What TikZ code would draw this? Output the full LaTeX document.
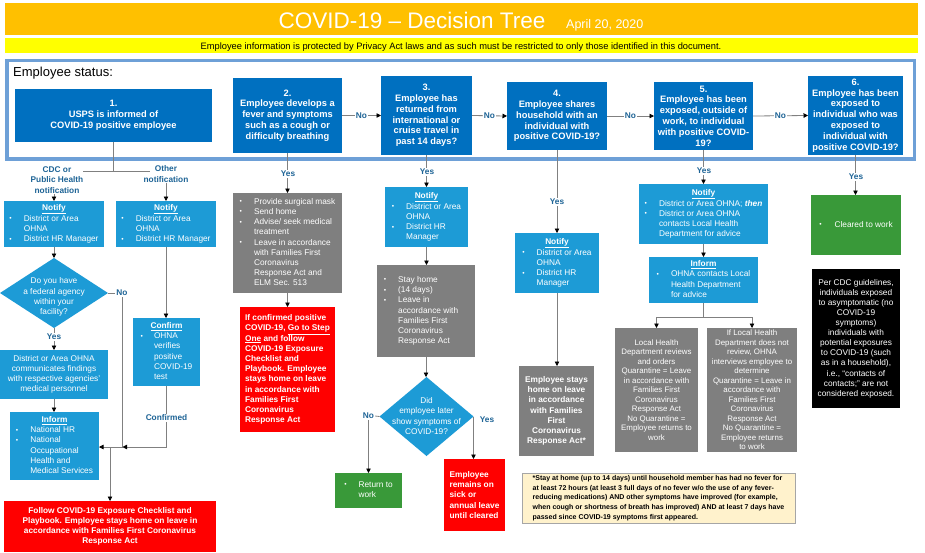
\documentclass[tikz,border=0pt]{standalone}
\usepackage{fontspec}
\setmainfont{Liberation Sans}
\usetikzlibrary{arrows.meta,shapes.geometric,calc}
\definecolor{dblue}{RGB}{0,112,192}
\definecolor{lblue}{RGB}{29,155,214}
\definecolor{gbox}{RGB}{127,127,127}
\definecolor{rbox}{RGB}{255,0,0}
\definecolor{gnbox}{RGB}{57,153,57}
\definecolor{orng}{RGB}{255,192,0}
\definecolor{ylw}{RGB}{255,255,0}
\definecolor{frm}{RGB}{110,160,215}
\definecolor{lbl}{RGB}{30,100,150}
\definecolor{conn}{RGB}{128,128,128}
\definecolor{notebg}{RGB}{255,242,204}
\newcommand{\fa}{\fontsize{9.3}{10.8}\selectfont\bfseries}
\newcommand{\fb}{\fontsize{8.3}{10.2}\selectfont}
\newcommand{\fc}{\fontsize{7.9}{9.5}\selectfont}
\newcommand{\fn}{\fontsize{7}{9.6}\selectfont\bfseries}
\newcommand{\bu}{\raisebox{0.5pt}{\scalebox{0.8}{\textbullet}}}
\newcommand{\hd}[1]{\multicolumn{2}{c}{\bfseries\underline{#1}}\\}
\newcommand{\bl}[2]{\begin{tabular}{@{}l@{\hspace{#1}}l@{}}#2\end{tabular}}
\begin{document}
\begin{tikzpicture}[x=1pt,y=-1pt,
  bx/.style={anchor=north west, inner sep=1pt, outer sep=0pt, text=white},
  sz/.style 2 args={minimum width=#1pt, minimum height=#2pt},
  dk/.style={bx, fill=dblue, font=\fa, align=center},
  lb/.style={bx, fill=lblue, font=\fb},
  gy/.style={bx, fill=gbox, font=\fb},
  rd/.style={bx, fill=rbox, font=\fb\bfseries},
  gn/.style={bx, fill=gnbox, font=\fb},
  dia/.style={diamond, fill=lblue, inner sep=0pt, outer sep=0pt},
  lab/.style={text=lbl, font=\fb\bfseries, inner sep=1pt},
  wlab/.style={lab, fill=white},
  ln/.style={draw=conn, line width=0.8pt},
  ar/.style={ln, -{Triangle[length=4.5pt,width=4.5pt,color=black]}}]
\useasboundingbox (0,0) rectangle (925,552);
\fill[white] (0,0) rectangle (925,552);
% header
\fill[orng] (5,3) rectangle (918,35);
\fill[ylw] (5,38) rectangle (918,53);
\node[font=\fontsize{22.5}{27}\selectfont, text=white, anchor=base, inner sep=0pt] (title) at (412,28) {COVID-19 – Decision Tree};
\node[font=\fontsize{12.5}{15}\selectfont, text=white, anchor=base west, inner sep=0pt] (date) at (566,28) {April 20, 2020};
\node[font=\fontsize{9.3}{10}\selectfont, anchor=base, inner sep=0pt] (priv) at (461,49) {Employee information is protected by Privacy Act laws and as such must be restricted to only those identified in this document.};
% frame
\draw[frm, line width=3.5pt] (7,60.5) rectangle (914.5,159);
\node[font=\fontsize{13}{15}\selectfont, anchor=base west, inner sep=0pt] (status) at (13,76) {Employee status:};
% top boxes
\node[dk, sz={197}{53}] (b1) at (15,89) {1.\\USPS is informed of\\COVID-19 positive employee};
\node[dk, sz={109}{75}] (b2) at (233,78) {2.\\Employee develops a\\fever and symptoms\\such as a cough or\\difficulty breathing};
\node[dk, sz={91}{79}] (b3) at (381,76) {3.\\Employee has\\returned from\\international or\\cruise travel in\\past 14 days?};
\node[dk, sz={100}{68}] (b4) at (507,82) {4.\\Employee shares\\household with an\\individual with\\positive COVID-19?};
\node[dk, sz={99}{68}] (b5) at (654,82) {5.\\Employee has been\\exposed, outside of\\work, to individual\\with positive COVID-\\19?};
\node[dk, sz={95}{79}] (b6) at (808,76) {6.\\Employee has been\\exposed to\\individual who was\\exposed to\\individual with\\positive COVID-19?};
\draw[ar] (b2.east) -- (b3.west);
\draw[ar] (b3.east) -- (b4.west);
\draw[ar] (b4.east) -- (b5.west);
\draw[ar] (b5.east) -- (b6.west);
\node[wlab] (no12) at ($(b2.east)!0.5!(b3.west)$) {No};
% left column
\node[lab, align=center] (cdc) at (57,180) {CDC or\\Public Health\\notification};
\node[lab, align=center] (oth) at (166,174) {Other\\notification};
\coordinate (cl) at (83,171);
\coordinate (cr) at (150,171);
\draw[ln] (b1.south) -- (b1.south |- cl);
\draw[ln] (cl) -- (cr);
\node[lb, sz={100}{46}] (n1) at (4,201) {\bl{12pt}{\hd{Notify} \bu & District or Area\\ & OHNA\\ \bu & District HR Manager}};
\node[lb, sz={100}{46}] (n2) at (116,201) {\bl{12pt}{\hd{Notify} \bu & District or Area\\ & OHNA\\ \bu & District HR Manager}};
\draw[ar] (cdc.south -| n1.north) -- (n1.north);
\draw[ar] (oth.south -| n2.north) -- (n2.north);
\node[dia, minimum width=108pt, minimum height=70pt] (d1) at (54,293) {};
\node[font=\fb, text=white, align=center, inner sep=0pt] (d1t) at (54,297) {Do you have\\a federal agency\\within your\\facility?};
\draw[ar] (n1.south) -- (d1.north);
\node[lab] (no1) at (122,293) {No};
\draw[ln] (d1.east) -- (no1.west);
\node[lb, sz={108}{49}, align=center] (c1) at (0,350) {District or Area OHNA\\communicates findings\\with respective agencies'\\medical personnel};
\draw[ar] (d1.south) -- (c1.north);
\node[wlab] (yes1) at (54,337) {Yes};
\node[lb, sz={89}{68}] (i1) at (10,412) {\bl{12pt}{\hd{Inform} \bu & National HR\\ \bu & National\\ & Occupational\\ & Health and\\ & Medical Services}};
\draw[ar] (c1.south) -- (c1.south |- i1.north);
\node[lb, sz={67}{68}] (conf) at (133,318) {\bl{11pt}{\hd{Confirm} \bu & OHNA\\ & verifies\\ & positive\\ & COVID-19\\ & test}};
\draw[ar] (n2.south) -- (n2.south |- conf.north);
\node[rd, sz={212}{51}, align=center] (r1) at (4,501) {Follow COVID-19 Exposure Checklist and\\Playbook. Employee stays home on leave in\\accordance with Families First Coronavirus\\Response Act};
\coordinate (j1) at (122,447);
\coordinate (j2) at (110,447);
\draw[ar] (no1.south) -- (j1) -- (j1 -| i1.east);
\draw[ar] (conf.south) -- (conf.south |- j1) -- ([xshift=0.5pt]j1);
\node[wlab] (cfl) at (166.5,418) {Confirmed};
\draw[ar] (j2) -- (j2 |- r1.north);
% column 2
\node[gy, sz={109}{100}] (g2) at (233,193) {\bl{12pt}{\bu & Provide surgical mask\\ \bu & Send home\\ \bu & Advise/ seek medical\\ & treatment\\ \bu & Leave in accordance\\ & with Families First\\ & Coronavirus\\ & Response Act and\\ & ELM Sec. 513}};
\draw[ar] (b2.south) -- (b2.south |- g2.north);
\node[wlab] (yes2) at (288,174) {Yes};
\node[rd, sz={95}{125}, align=left] (r2) at (240,307) {If confirmed positive\\COVID-19, \underline{Go to Step}\\\underline{One} and follow\\COVID-19 Exposure\\Checklist and\\Playbook. Employee\\stays home on leave\\in accordance with\\Families First\\Coronavirus\\Response Act};
\draw[ar] (g2.south) -- (g2.south |- r2.north);
% column 3
\node[lb, sz={83}{60}] (n3) at (385,187) {\bl{12pt}{\hd{Notify} \bu & District or Area\\ & OHNA\\ \bu & District HR\\ & Manager}};
\draw[ar] (b3.south) -- (b3.south |- n3.north);
\node[wlab] (yes3a) at (427,172) {Yes};
\node[gy, sz={98}{92}] (g3) at (377,265) {\bl{12pt}{\bu & Stay home\\ \bu & (14 days)\\ \bu & Leave in\\ & accordance with\\ & Families First\\ & Coronavirus\\ & Response Act}\hspace*{10pt}};
\draw[ar] (n3.south) -- (n3.south |- g3.north);
\node[dia, minimum width=94pt, minimum height=79pt] (d3) at (426.5,416.5) {};
\node[font=\fb, text=white, align=center, inner sep=0pt] (d3t) at (426.5,416) {Did\\employee later\\show symptoms of\\COVID-19?};
\draw[ar] (g3.south) -- (g3.south |- d3.north);
\node[gn, sz={67}{35}] (gr3) at (335,473) {\bl{12pt}{\bu & Return to\\ & work}};
\node[rd, sz={61}{72}, align=left] (r3) at (444,459) {Employee\\remains on\\sick or\\annual leave\\until cleared};
\node[lab] (no3) at (368.5,416) {No};
\draw[ln] (d3.west) -- (no3.east);
\draw[ar] (no3.south) -- (no3.south |- gr3.north);
\node[lab] (yes3) at (487,420) {Yes};
\draw[ar] (d3.east) -- (d3.east |- r3.north);
% column 4
\node[lb, sz={84}{60}] (n4) at (515,233) {\bl{12pt}{\hd{Notify} \bu & District or Area\\ & OHNA\\ \bu & District HR\\ & Manager}};
\draw[ar] (b4.south) -- (b4.south |- n4.north);
\node[wlab] (yes4) at (557,202) {Yes};
\node[gy, sz={75}{90}, align=center, font=\fb\bfseries] (g4) at (519,366) {Employee stays\\home on leave\\in accordance\\with Families\\First\\Coronavirus\\Response Act*};
\draw[ar] (n4.south) -- (n4.south |- g4.north);
% column 5
\node[lb, sz={129}{60}] (n5) at (639,184) {\bl{12pt}{\hd{Notify} \bu & District or Area OHNA; \textbf{\textit{then}}\\ \bu & District or Area OHNA\\ & contacts Local Health\\ & Department for advice}};
\draw[ar] (b5.south) -- (b5.south |- n5.north);
\node[wlab] (yes5) at (704,171) {Yes};
\node[lb, sz={109}{46}] (i5) at (649,257) {\bl{12pt}{\hd{Inform} \bu & OHNA contacts Local\\ & Health Department\\ & for advice}};
\draw[ar] (n5.south) -- (n5.south |- i5.north);
\node[gy, sz={83}{124}, align=center, font=\fc, inner sep=0pt] (g5a) at (615,328) {Local Health\\Department reviews\\and orders\\Quarantine = Leave\\in accordance with\\Families First\\Coronavirus\\Response Act\\No Quarantine =\\Employee returns to\\work};
\node[gy, sz={90}{124}, align=center, font=\fc, inner sep=0pt] (g5b) at (707,328) {If Local Health\\Department does not\\review, OHNA\\interviews employee to\\determine\\Quarantine = Leave in\\accordance with\\Families First\\Coronavirus\\Response Act\\No Quarantine =\\Employee returns\\to work};
\coordinate (j5) at (703.5,317);
\draw[ln] (i5.south) -- (j5);
\draw[ar] (j5) -| (g5a.north);
\draw[ar] (j5) -| (g5b.north);
% column 6
\node[gn, sz={90}{60}] (gr6) at (811,195) {\bl{13pt}{\bu & Cleared to work}};
\draw[ar] (b6.south) -- (b6.south |- gr6.north);
\node[wlab] (yes6) at (856,177) {Yes};
\node[bx, fill=black, sz={88}{139}, align=center, font=\fontsize{8.3}{10.1}\selectfont] (blk) at (812,269) {Per CDC guidelines,\\individuals exposed\\to asymptomatic (no\\COVID-19\\symptoms)\\individuals with\\potential exposures\\to COVID-19 (such\\as in a household),\\i.e., “contacts of\\contacts;” are not\\considered exposed.};
% note
\node[bx, fill=notebg, draw=gray!70, line width=1pt, text=black, font=\fn, align=left, sz={273}{50}] (note) at (522,473) {*Stay at home (up to 14 days) until household member has had no fever for\\at least 72 hours (at least 3 full days of no fever w/o the use of any fever-\\reducing medications) AND other symptoms have improved (for example,\\when cough or shortness of breath has improved) AND at least 7 days have\\passed since COVID-19 symptoms first appeared.};
% No labels on top arrows
\node[wlab] (no23) at ($(b3.east)!0.5!(b4.west)$) {No};
\node[wlab] (no34) at ($(b4.east)!0.5!(b5.west)$) {No};
\node[wlab] (no45) at ($(b5.east)!0.5!(b6.west)$) {No};
\end{tikzpicture}
\end{document}
